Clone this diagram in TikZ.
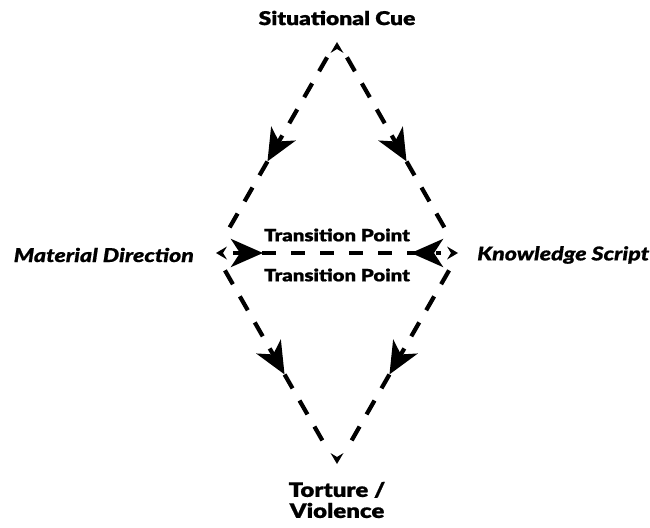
\documentclass[tikz,border=0pt]{standalone}
\usepackage{fontspec}
\setmainfont{Lato}[BoldFont={Lato Black},BoldItalicFont={Lato Black Italic},
  BoldFeatures={FakeStretch=1.2,FakeBold=0.8},BoldItalicFeatures={FakeStretch=1.22,FakeBold=0.8}]
\usetikzlibrary{arrows.meta,decorations.markings}
\begin{document}
\begin{tikzpicture}[x=1pt,y=-1pt,
  edge/.style={line width=4.2pt,dash pattern=on 16pt off 14pt,shorten <=20pt,shorten >=20pt},
  bigtip/.style={postaction={decorate,solid,decoration={markings,
     mark=at position #1 with {\arrow{Stealth[length=32pt,width=28pt,inset=9pt]}}}}},
  lbl/.style={font=\bfseries\fontsize{19}{22}\selectfont,inner sep=0pt,align=center},
  ilbl/.style={font=\bfseries\itshape\fontsize{19}{22}\selectfont,inner sep=0pt},
  tip/.pic={\fill (3,0) -- (-8,6.5) -- (-4,0) -- (-8,-6.5) -- cycle;}]
\useasboundingbox (0,0) rectangle (650,527);
\coordinate (T) at (337,40);
\coordinate (L) at (215,253);
\coordinate (R) at (459,253);
\coordinate (B) at (337,466);
% small tips at the vertices
\pic[rotate=90] at (337,45) {tip};
\pic[rotate=180] at (219,253) {tip};
\pic at (455,253) {tip};
\pic[rotate=-90] at (337,461) {tip};
% edges
\draw[edge,bigtip=0.57] (T) -- (L);
\draw[edge,bigtip=0.57] (T) -- (R);
\draw[edge,bigtip=0.57] (L) -- (B);
\draw[edge,bigtip=0.57] (R) -- (B);
\draw[line width=4.2pt,dash pattern=on 14pt off 15pt,shorten <=18pt,shorten >=18pt,
  postaction={decorate,solid,decoration={markings,
   mark=at position 48pt with {\arrow{Stealth[length=32pt,width=28pt,inset=9pt]}},
   mark=at position -48pt with {\arrowreversed{Stealth[length=32pt,width=28pt,inset=9pt]}}}}]
  (L) -- (R);
% labels
\node[lbl] (cue) at (337,18) {Situational Cue};
\node[lbl,font=\bfseries\fontsize{17}{20}\selectfont] (tp1) at (337,235) {Transition Point};
\node[lbl,font=\bfseries\fontsize{17}{20}\selectfont] (tp2) at (337,275) {Transition Point};
\node[ilbl,anchor=east] (md) at (194,255) {Material Direction};
\node[ilbl,anchor=west] (ks) at (477,255) {Knowledge Script};
\node[lbl,font=\bfseries\fontsize{20}{21}\selectfont] (tv) at (337,500) {Torture /\\Violence};
\end{tikzpicture}
\end{document}
